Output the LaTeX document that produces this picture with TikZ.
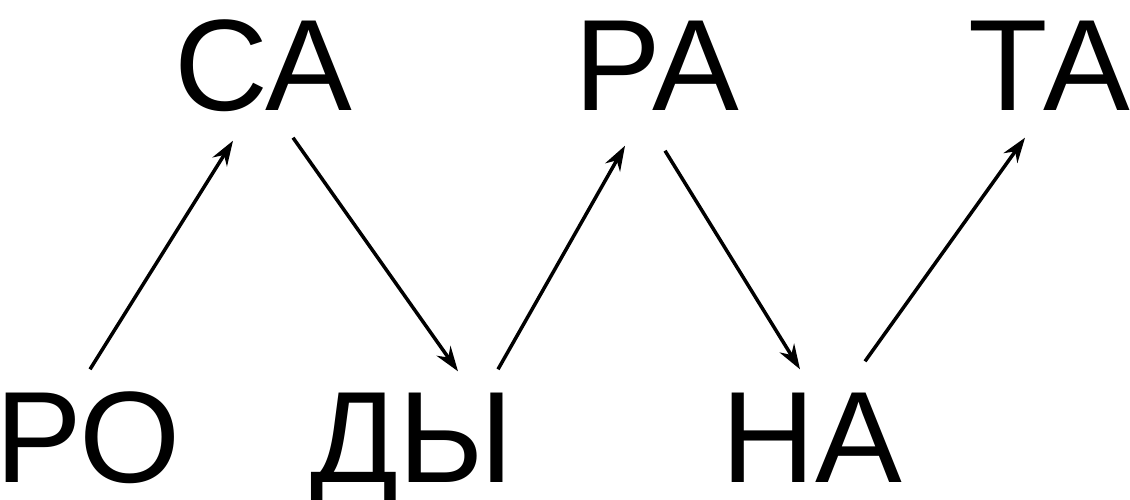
\documentclass[tikz,border=0pt]{standalone}
\usepackage{fontspec}
\setmainfont{Liberation Sans}
\usetikzlibrary{arrows.meta, calc}

\begin{document}
\begin{tikzpicture}[syl/.style={inner sep=0pt, anchor=base, text height=0.9cm, text depth=0pt, font=\fontsize{37}{40}\selectfont},
  arr/.style={-{Stealth[length=0.25cm, width=0.17cm]}, line width=0.035cm}]
\useasboundingbox (0,0) rectangle (11.3,4.99);
\node[syl] (sa) at (2.63,3.88) {СА};
\node[syl] (ra) at (6.57,3.88) {РА};
\node[syl] (ta) at (10.49,3.88) {ТА};
\node[syl] (ro) at (0.88,0.17) {РО};
\node[syl] (dy) at (4.12,0.17) {ДЫ};
\node[syl] (na) at (8.12,0.17) {НА};

\draw[arr] ($(ro.north)+(0.02,0.22)$) -- ($(sa.south)+(-0.30,-0.29)$);
\draw[arr] ($(sa.south)+(0.30,-0.26)$) -- ($(dy.north)+(0.46,0.20)$);
\draw[arr] ($(dy.north)+(0.86,0.22)$) -- ($(ra.south)+(-0.32,-0.34)$);
\draw[arr] ($(ra.south)+(0.08,-0.39)$) -- ($(na.north)+(-0.12,0.22)$);
\draw[arr] ($(na.north)+(0.53,0.30)$) -- ($(ta.south)+(-0.24,-0.26)$);
\end{tikzpicture}
\end{document}
